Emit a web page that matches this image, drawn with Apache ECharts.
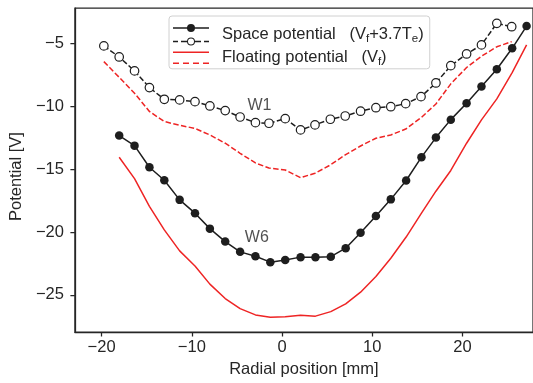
<!DOCTYPE html>
<html>
<head>
<meta charset="utf-8">
<script src="https://cdn.jsdelivr.net/npm/echarts@6/dist/echarts.min.js"></script>
<style>
  html, body { margin: 0; padding: 0; background: #fff; }
  #chart { width: 533px; height: 383px; }
</style>
</head>
<body>
<div id="chart"></div>
<script>
// radial positions [mm]
const w1X = [-19.75, -18.05, -16.35, -14.7, -13.05, -11.35, -9.65, -8.0, -6.3, -4.65, -2.95, -1.45, 0.35, 2.05,
  3.65, 5.35, 7.0, 8.7, 10.4, 12.05, 13.7, 15.4, 17.05, 18.7, 20.45, 22.1, 23.8, 25.45];
const w6X = [-18.05, -16.35, -14.7, -13.05, -11.35, -9.65, -8.0, -6.3, -4.65, -2.95, -1.3, 0.35, 2.05, 3.7,
  5.4, 7.05, 8.7, 10.4, 12.05, 13.75, 15.45, 17.05, 18.7, 20.45, 22.1, 23.8, 25.5, 27.1];

// potentials [V]
const w1Space = [-5.18, -6.06, -7.17, -8.5, -9.43, -9.48, -9.62, -9.96, -10.33, -10.84, -11.29, -11.34, -10.97, -11.87,
  -11.47, -11.02, -10.76, -10.38, -10.1, -10.02, -9.78, -9.22, -8.13, -6.75, -5.82, -5.1, -3.38, -3.65];
const w1Float = [-6.43, -7.68, -8.95, -10.4, -11.2, -11.5, -11.75, -12.27, -12.93, -13.73, -14.5, -14.9, -15.06, -15.67,
  -15.32, -14.66, -13.86, -13.15, -12.53, -12.27, -11.8, -10.9, -9.8, -8.2, -6.9, -6.0, -5.25, -4.84];
const w6Space = [-12.32, -13.12, -14.84, -15.88, -17.44, -18.5, -19.73, -20.76, -21.58, -21.93, -22.4, -22.22, -22.0, -22.0,
  -21.96, -21.29, -20.05, -18.72, -17.4, -15.9, -14.04, -12.48, -11.05, -9.74, -8.42, -7.04, -5.37, -3.6];
const w6Float = [-14.05, -15.75, -17.95, -19.83, -21.5, -22.7, -24.15, -25.3, -26.1, -26.6, -26.78, -26.74, -26.62, -26.7,
  -26.34, -25.72, -24.79, -23.55, -22.09, -20.4, -18.5, -16.75, -15.1, -12.93, -11.07, -9.4, -7.3, -5.1];

const xTicks = [-20, -10, 0, 10, 20];
const yTicks = [-25, -20, -15, -10, -5];

// curve labels
const notes = [[-2.5, -9.9, 'W1'], [-2.8, -20.45, 'W6']];

const ink = '#262626';
const black = '#1e1e1e';
const red = '#ee2424';

const pairs = (xs, ys) => xs.map((x, i) => [x, ys[i]]);
const minus = v => String(v).replace('-', '\u2212');

const spaceIcon = 'path://M0 3.25H36V4.75H0Z M14 4A4 4 0 1 1 22 4A4 4 0 1 1 14 4Z ' +
  'M0 16.75H5V18.25H0Z M8 16.75H14.2V18.25H8Z ' +
  'M14 17.5A4 4 0 1 1 22 17.5A4 4 0 1 1 14 17.5Z M15 17.5A3 3 0 1 0 21 17.5A3 3 0 1 0 15 17.5Z ' +
  'M21.8 16.75H28V18.25H21.8Z M31 16.75H36V18.25H31Z';
const floatIcon = 'path://M0 0H36V1.5H0Z M0 11H6V12.5H0Z M10 11H16V12.5H10Z M20 11H26V12.5H20Z M30 11H36V12.5H30Z';

const chart = echarts.init(document.getElementById('chart'));

chart.setOption({
  animation: false,
  textStyle: { fontFamily: 'Liberation Sans, Arial, sans-serif' },
  grid: {
    left: 70.7, right: -1, top: 8, bottom: 50.7,
    show: true, borderColor: ink, borderWidth: 1.25
  },
  legend: {
    left: 169, top: 16,
    orient: 'vertical',
    selectedMode: false,
    itemWidth: 36, itemHeight: 22, itemGap: 2.3,
    symbolKeepAspect: true,
    padding: [8, 6, 1, 4],
    backgroundColor: '#fff',
    borderColor: '#d0d0d0', borderWidth: 1, borderRadius: 3,
    itemStyle: { borderWidth: 0 },
    data: [
      { name: 'Space potential', icon: spaceIcon },
      { name: 'Floating potential', icon: floatIcon }
    ],
    formatter: name => name === 'Space potential'
      ? name + '   {t|(V}{s|f}{t|+3.7T}{s|e}{t|)}'
      : name + '   {t|(V}{s|f}{t|)}',
    textStyle: {
      fontSize: 16.5, color: ink, lineHeight: 20,
      padding: [0, 0, 0, 8],
      rich: {
        t: { fontSize: 16.5, color: ink, lineHeight: 20 },
        s: { fontSize: 11.5, color: ink, lineHeight: 10, verticalAlign: 'bottom' }
      }
    }
  },
  xAxis: {
    type: 'value',
    min: -22.96, max: 27.81,
    name: 'Radial position [mm]',
    nameLocation: 'middle', nameGap: 26,
    nameTextStyle: { fontSize: 16.5, color: ink },
    axisLine: { onZero: false, lineStyle: { color: ink, width: 1.25 } },
    axisTick: { customValues: xTicks, length: 4.5, lineStyle: { color: ink, width: 1.25 } },
    axisLabel: { customValues: xTicks, formatter: minus, fontSize: 16.5, color: ink, margin: 7 },
    splitLine: { show: false }
  },
  yAxis: {
    type: 'value',
    min: -27.97, max: -2.16,
    name: 'Potential [V]',
    nameLocation: 'middle', nameGap: 47.5, nameRotate: 90,
    nameTextStyle: { fontSize: 16.5, color: ink, padding: [0, 13, 0, 0] },
    axisLine: { show: true, onZero: false, lineStyle: { color: ink, width: 1.25 } },
    axisTick: { show: true, customValues: yTicks, length: 4.5, lineStyle: { color: ink, width: 1.25 } },
    axisLabel: { customValues: yTicks, formatter: minus, fontSize: 16.5, color: ink, margin: 11 },
    splitLine: { show: false }
  },
  series: [
    {
      name: 'Space potential', type: 'line', data: pairs(w6X, w6Space),
      symbol: 'circle', symbolSize: 8.5,
      itemStyle: { color: black },
      lineStyle: { color: black, width: 1.5 },
      z: 3
    },
    {
      name: 'Floating potential', type: 'line', data: pairs(w6X, w6Float),
      symbol: 'none',
      itemStyle: { color: red },
      lineStyle: { color: red, width: 1.5 },
      z: 2
    },
    {
      name: 'W1 space', type: 'line', data: pairs(w1X, w1Space),
      symbol: 'circle', symbolSize: 8.5,
      itemStyle: { color: '#fff', borderColor: black, borderWidth: 1.2 },
      lineStyle: { color: black, width: 1.5, type: [5.5, 2.4] },
      z: 3
    },
    {
      name: 'W1 floating', type: 'line', data: pairs(w1X, w1Float),
      symbol: 'none',
      itemStyle: { color: red },
      lineStyle: { color: red, width: 1.5, type: [5.5, 2.4] },
      z: 2
    },
    {
      name: 'notes', type: 'scatter', data: notes,
      symbolSize: 0.1, silent: true,
      label: {
        show: true, position: 'inside',
        formatter: p => p.data[2],
        fontSize: 16, color: ink
      }
    }
  ]
});
</script>
</body>
</html>
